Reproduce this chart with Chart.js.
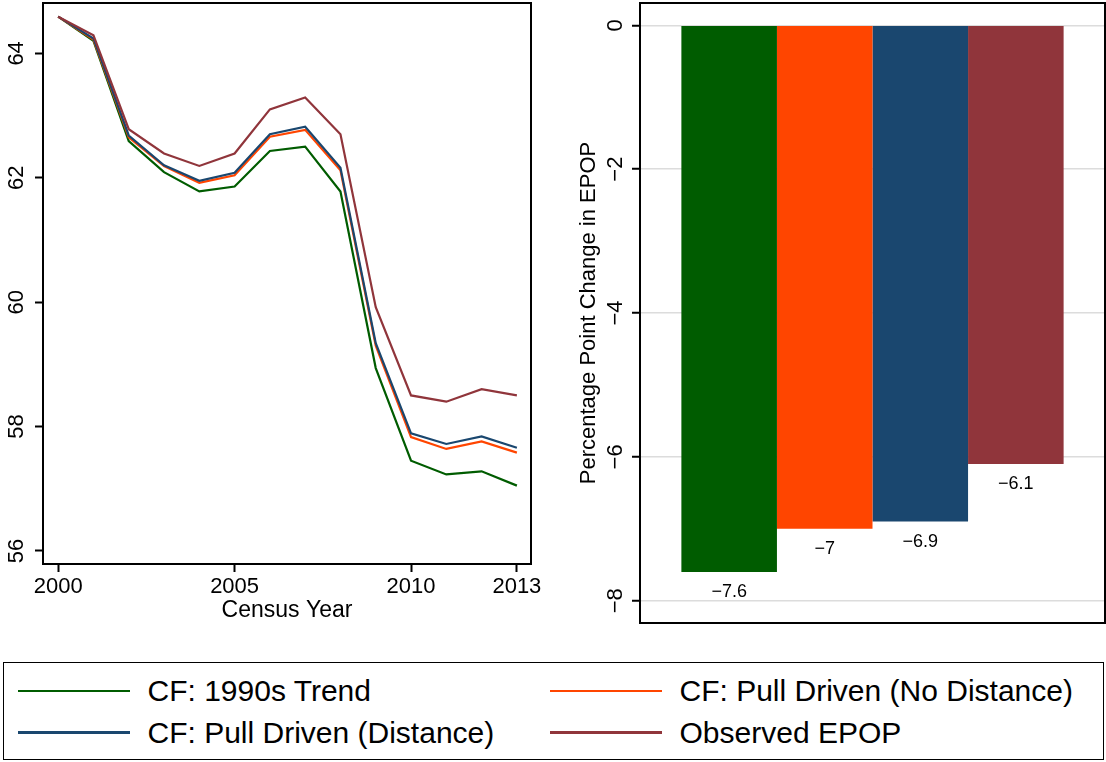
<!DOCTYPE html>
<html>
<head>
<meta charset="utf-8">
<script src="https://cdn.jsdelivr.net/npm/chart.js@4.4.1/dist/chart.umd.min.js"></script>
<style>
  body { margin: 0; background: #fff; }
  #wrap { position: relative; width: 1106px; height: 762px; background: #fff; overflow: hidden; }
  #lines { position: absolute; left: 0; top: 0; }
  #bars { position: absolute; left: 560px; top: 0; }
  #legend {
    position: absolute; left: 3px; top: 662px; width: 1101px; height: 98px;
    box-sizing: border-box; border: 1.5px solid #000;
    font-family: "Liberation Sans", Arial, sans-serif; font-size: 30px; color: #000;
  }
  .item { position: absolute; height: 40px; display: flex; align-items: center; white-space: nowrap; }
  .swatch { width: 112px; height: 2.5px; margin-right: 18px; }
</style>
</head>
<body>
<div id="wrap">
  <canvas id="lines" width="545" height="640"></canvas>
  <canvas id="bars" width="546" height="640"></canvas>
  <div id="legend"></div>
</div>
<script>
"use strict";

// data
const years = [2000, 2001, 2002, 2003, 2004, 2005, 2006, 2007, 2008, 2009, 2010, 2011, 2012, 2013];
const yearTicks = [2000, 2005, 2010, 2013];
const epopTicks = [56, 58, 60, 62, 64];

const trend1990s = [64.59, 64.20, 62.59, 62.09, 61.78, 61.86, 62.43, 62.50, 61.78, 58.94, 57.45, 57.23, 57.28, 57.05];
const pullNoDistance = [64.59, 64.22, 62.65, 62.19, 61.92, 62.04, 62.66, 62.77, 62.12, 59.30, 57.83, 57.64, 57.76, 57.58];
const pullDistance = [64.59, 64.24, 62.68, 62.20, 61.95, 62.08, 62.70, 62.82, 62.16, 59.34, 57.89, 57.72, 57.84, 57.66];
const observed = [64.59, 64.29, 62.78, 62.39, 62.19, 62.39, 63.10, 63.29, 62.70, 59.92, 58.50, 58.40, 58.60, 58.50];

const seriesNames = ["CF: 1990s Trend", "CF: Pull Driven (No Distance)", "CF: Pull Driven (Distance)", "Observed EPOP"];
const seriesColors = ["#005c00", "#ff4500", "#1a476f", "#90353b"];
const changes = [-7.6, -7.0, -6.9, -6.1];

const FONT = "'Liberation Sans', Arial, sans-serif";
Chart.defaults.font.family = FONT;
Chart.defaults.color = "#000";

let minus = v => (v < 0 ? "\u2212" + Math.abs(v) : String(v));

// rotated labels make chart.js reserve room at the ends, we don't want that
let noEndPadding = s => {
  s.paddingTop = 0;
  s.paddingBottom = 0;
  s.paddingLeft = 0;
  s.paddingRight = 0;
};

// box around the plot area
const frame = {
  id: "frame",
  afterDraw(chart) {
    let a = chart.chartArea;
    let ctx = chart.ctx;
    ctx.save();
    ctx.strokeStyle = "#000";
    ctx.lineWidth = 2;
    ctx.strokeRect(a.left, a.top, a.right - a.left, a.bottom - a.top);
    ctx.restore();
  }
};

// value under each bar
const barValues = {
  id: "barValues",
  afterDatasetsDraw(chart) {
    let ctx = chart.ctx;
    ctx.save();
    ctx.font = "18px " + FONT;
    ctx.fillStyle = "#000";
    ctx.textAlign = "center";
    ctx.textBaseline = "middle";
    chart.data.datasets.forEach((ds, i) => {
      let bar = chart.getDatasetMeta(i).data[0];
      ctx.fillText(minus(ds.data[0]), bar.x, bar.y + 20);
    });
    ctx.restore();
  }
};

let series = [trend1990s, pullNoDistance, pullDistance, observed];

// Line chart
let lineChart = new Chart(document.querySelector("#lines"), {
  type: "line",
  data: {
    datasets: series.map((vals, i) => ({
      label: seriesNames[i],
      data: years.map((y, j) => ({ x: y, y: vals[j] })),
      borderColor: seriesColors[i],
      borderWidth: 2.2,
      pointRadius: 0,
      tension: 0,
      fill: false,
      order: series.length - i
    }))
  },
  options: {
    responsive: false,
    animation: false,
    devicePixelRatio: 1,
    layout: { padding: { top: 3, right: 14, left: 0, bottom: 0 } },
    plugins: { legend: { display: false }, tooltip: { enabled: false } },
    scales: {
      x: {
        type: "linear",
        min: 1999.57,
        max: 2013.4,
        afterBuildTicks: s => { s.ticks = yearTicks.map(v => ({ value: v })); },
        afterFit: s => { s.height = 76; noEndPadding(s); },
        ticks: { font: { size: 22 }, padding: 2, autoSkip: false, maxRotation: 0, callback: v => String(v) },
        grid: { drawOnChartArea: false, tickLength: 8, tickWidth: 2, tickColor: "#000" },
        border: { color: "#000", width: 2 },
        title: { display: true, text: "Census Year", font: { size: 23 }, padding: { top: 0, bottom: 16 } }
      },
      y: {
        min: 55.79,
        max: 64.81,
        afterBuildTicks: s => { s.ticks = epopTicks.map(v => ({ value: v })); },
        afterFit: s => { s.width = 43; noEndPadding(s); },
        ticks: { font: { size: 22 }, minRotation: 90, maxRotation: 90, crossAlign: "center", padding: 6, autoSkip: false, callback: v => String(v) },
        grid: { drawOnChartArea: false, tickLength: 8, tickWidth: 2, tickColor: "#000" },
        border: { color: "#000", width: 2 }
      }
    }
  },
  plugins: [frame]
});

// Bar chart
let barChart = new Chart(document.querySelector("#bars"), {
  type: "bar",
  data: {
    labels: [""],
    datasets: changes.map((v, i) => ({
      label: seriesNames[i],
      data: [v],
      backgroundColor: seriesColors[i],
      borderWidth: 0,
      barPercentage: 1,
      categoryPercentage: 0.822
    }))
  },
  options: {
    responsive: false,
    animation: false,
    devicePixelRatio: 1,
    layout: { padding: { top: 3, right: 1, left: 0, bottom: 17 } },
    plugins: { legend: { display: false }, tooltip: { enabled: false } },
    scales: {
      x: { display: false },
      y: {
        min: -8.31,
        max: 0.31,
        ticks: { stepSize: 2, includeBounds: false, font: { size: 22 }, minRotation: 90, maxRotation: 90, crossAlign: "center", padding: 4, autoSkip: false, callback: minus },
        afterFit: s => { s.width = 80; noEndPadding(s); },
        grid: { color: "#dcdcdc", lineWidth: 1.5, tickLength: 8, tickWidth: 2, tickColor: "#000" },
        border: { color: "#000", width: 2 },
        title: { display: true, text: "Percentage Point Change in EPOP", font: { size: 22 }, padding: { top: 16, bottom: 0 } }
      }
    }
  },
  plugins: [frame, barValues]
});

// Legend shared by both panels
let legend = document.querySelector("#legend");
let colX = [13.5, 545.5];
let rowY = [8, 49.5];
seriesNames.forEach((name, i) => {
  let item = document.createElement("div");
  item.className = "item";
  item.style.left = colX[i % 2] + "px";
  item.style.top = rowY[Math.floor(i / 2)] + "px";
  let sw = document.createElement("div");
  sw.className = "swatch";
  sw.style.background = seriesColors[i];
  let txt = document.createElement("span");
  txt.textContent = name;
  item.appendChild(sw);
  item.appendChild(txt);
  legend.appendChild(item);
});
</script>
</body>
</html>
